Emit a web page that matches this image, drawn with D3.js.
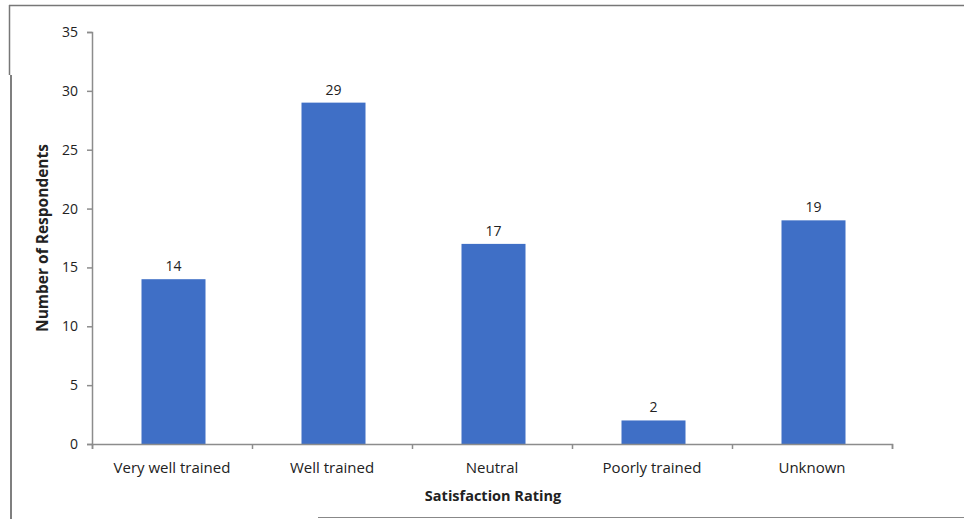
<!DOCTYPE html>
<html><head><meta charset="utf-8">
<script src="https://cdn.jsdelivr.net/npm/d3@7"></script>
<style>body{margin:0;background:#fff}svg{display:block}</style>
</head><body>
<svg id="c" width="964" height="519"></svg>
<script>
const categories = ["Very well trained","Well trained","Neutral","Poorly trained","Unknown"];
const values = [14,29,17,2,19];
const yTicks = [0,5,10,15,20,25,30,35];
const xTitle = "Satisfaction Rating";
const yTitle = "Number of Respondents";

const svg = d3.select("#c");
const font = "'Open Sans', 'Liberation Sans', sans-serif";
const axisColor = "#8c8c8c";

// frame
svg.append("line").attr("x1",9).attr("y1",5.5).attr("x2",964).attr("y2",5.5).attr("stroke","#777").attr("stroke-width",1.5);
svg.append("line").attr("x1",9.5).attr("y1",5).attr("x2",9.5).attr("y2",75).attr("stroke","#777").attr("stroke-width",1.5);
svg.append("line").attr("x1",11).attr("y1",75).attr("x2",11).attr("y2",519).attr("stroke","#555").attr("stroke-width",1.5);
svg.append("line").attr("x1",318).attr("y1",517.5).attr("x2",964).attr("y2",517.5).attr("stroke","#888").attr("stroke-width",1.2);

const x = d3.scaleBand().domain(categories).range([92,892]).paddingInner(0.6).paddingOuter(0.3);
const y = d3.scaleLinear().domain([0,35]).range([444,32]);

// bars
svg.append("g").selectAll("rect").data(values).join("rect")
  .attr("x",(d,i)=>x(categories[i])+1.5)
  .attr("y",d=>y(d))
  .attr("width",x.bandwidth())
  .attr("height",d=>y(0)-y(d))
  .attr("fill","#3f6fc6");

// value labels
svg.append("g").selectAll("text").data(values).join("text")
  .attr("x",(d,i)=>x(categories[i])+1.5+x.bandwidth()/2)
  .attr("y",d=>y(d)-8)
  .attr("text-anchor","middle")
  .attr("font-family",font).attr("font-size",14).attr("fill","#222")
  .text(d=>d);

// y axis
const ya = svg.append("g").attr("transform","translate(92,0)")
  .call(d3.axisLeft(y).tickValues(yTicks).tickSize(5).tickPadding(9));
ya.selectAll("path,line").attr("stroke",axisColor).attr("stroke-width",1.5);
ya.selectAll("text").attr("font-family",font).attr("font-size",14).attr("fill","#222");

// x axis
const xb = d3.scaleLinear().domain([0,categories.length]).range([92,892]);
const xa = svg.append("g").attr("transform","translate(0,444)")
  .call(d3.axisBottom(xb).tickValues(d3.range(categories.length+1)).tickSize(5).tickFormat(""));
xa.selectAll("path,line").attr("stroke",axisColor).attr("stroke-width",1.5);
svg.append("g").selectAll("text").data(categories).join("text")
  .attr("x",(d,i)=>xb(i+0.5))
  .attr("y",473)
  .attr("text-anchor","middle")
  .attr("font-family",font).attr("font-size",15).attr("fill","#222")
  .text(d=>d);

// titles
svg.append("text").attr("x",493).attr("y",501).attr("text-anchor","middle")
  .attr("font-family",font).attr("font-size",14.5).attr("font-weight","bold").attr("fill","#222").text(xTitle);
svg.append("text").attr("transform","translate(48,238) rotate(-90)").attr("text-anchor","middle")
  .attr("font-family",font).attr("font-size",15.5).attr("font-weight","bold").attr("fill","#222").text(yTitle);
</script>
</body></html>
